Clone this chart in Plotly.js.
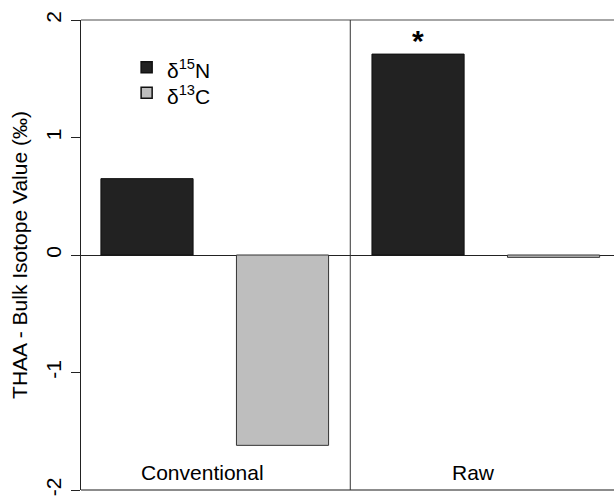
<!DOCTYPE html>
<html>
<head>
<meta charset="utf-8">
<script src="https://cdn.plot.ly/plotly-3.0.1.min.js"></script>
<style>html,body{margin:0;padding:0;background:#fff}#chart{width:614px;height:497px}</style>
</head>
<body>
<div id="chart"></div>
<script>
const categories = ['Conventional', 'Raw'];
const seriesNames = ['δ<sup>15</sup>N', 'δ<sup>13</sup>C'];
const seriesColors = ['#222222', '#bebebe'];
const n15 = [0.65, 1.71];
const c13 = [-1.62, -0.02];
const yTicks = [-2, -1, 0, 1, 2];
const yTickText = ['-2', '-1', '0', '1', '2'];
const groupLabels = ['Conventional', 'Raw'];
const sigMarks = ['', '*'];

const font = 'Liberation Sans, Arial, sans-serif';

const traces = [
  {type: 'bar', x: categories, y: n15, name: seriesNames[0], showlegend: false,
   marker: {color: seriesColors[0], line: {color: '#111111', width: 1}}, hoverinfo: 'none'},
  {type: 'bar', x: categories, y: c13, name: seriesNames[1], showlegend: false,
   marker: {color: seriesColors[1], line: {color: '#333333', width: 1}}, hoverinfo: 'none'}
];

const annotations = [];
groupLabels.forEach((g, i) => {
  annotations.push({x: i - 0.045, y: -1.85, xref: 'x', yref: 'y', text: g, showarrow: false,
    font: {family: font, size: 21, color: '#000'}});
});
sigMarks.forEach((s, i) => {
  if (!s) return;
  annotations.push({x: i - 0.25, y: n15[i], xref: 'x', yref: 'y', text: '<b>' + s + '</b>', showarrow: false,
    yanchor: 'bottom', yshift: -5, font: {family: font, size: 30, color: '#000'}});
});

// manual legend (key boxes + labels)
const legX0 = 0.1128, legBox = 0.0207, legTextX = 0.1576;
const legRowsY = [0.8996, 0.8452];
const shapes = [
  {type: 'line', xref: 'paper', yref: 'paper', x0: 0, x1: 1, y0: 1, y1: 1, line: {color: '#888', width: 1.5}},
  {type: 'line', xref: 'paper', yref: 'paper', x0: 0, x1: 1, y0: 0, y1: 0, line: {color: '#666', width: 1.5}},
  {type: 'line', xref: 'x', yref: 'paper', x0: 0.5, x1: 0.5, y0: 0, y1: 1, line: {color: '#333', width: 1}}
];
seriesNames.forEach((nm, i) => {
  const cy = legRowsY[i];
  shapes.push({type: 'rect', xref: 'paper', yref: 'paper', x0: legX0, x1: legX0 + legBox,
    y0: cy - 0.0117, y1: cy + 0.0117, fillcolor: seriesColors[i], line: {color: '#111', width: 1.5}});
  annotations.push({xref: 'paper', yref: 'paper', x: legTextX, y: cy - 0.004, xanchor: 'left', yanchor: 'middle',
    text: nm, showarrow: false, font: {family: font, size: 21, color: '#000'}});
});

const layout = {
  width: 614, height: 497,
  margin: {l: 81, r: 0, t: 20, b: 7, pad: 0},
  paper_bgcolor: '#fff', plot_bgcolor: '#fff',
  barmode: 'group', bargap: 0, bargroupgap: 0.32,
  font: {family: font, size: 21, color: '#000'},
  showlegend: false,
  xaxis: {type: 'category', range: [-0.4935, 1.473], showticklabels: false, ticks: '',
    showgrid: false, zeroline: false, showline: false, fixedrange: true},
  yaxis: {range: [-2, 2], tickvals: yTicks, ticktext: yTickText, tickangle: -90,
    ticks: 'outside', ticklen: 9, tickcolor: '#222', tickwidth: 1,
    showgrid: false, zeroline: true, zerolinecolor: '#222', zerolinewidth: 1,
    showline: true, linecolor: '#222', linewidth: 1, ticklabelstandoff: 2,
    tickfont: {family: font, size: 21, color: '#000'},
    title: {text: 'THAA - Bulk Isotope Value (‰)', standoff: 8, font: {family: font, size: 21, color: '#000'}}},
  shapes: shapes,
  annotations: annotations
};

Plotly.newPlot('chart', traces, layout, {displayModeBar: false, staticPlot: true});
</script>
</body>
</html>
